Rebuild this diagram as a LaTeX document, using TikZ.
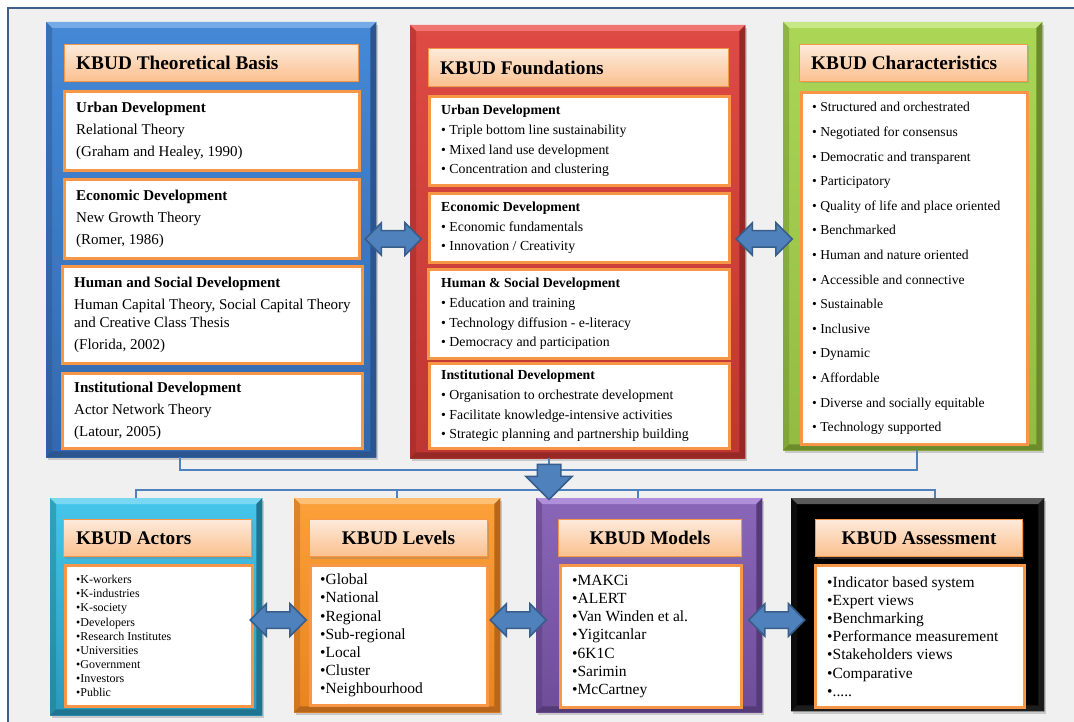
\documentclass[tikz,border=0pt]{standalone}
\usepackage{fontspec}
\setmainfont{Liberation Serif}
\usetikzlibrary{shapes.arrows,shadows,calc}
\definecolor{frameblue}{HTML}{3E5F8A}
\definecolor{bgray}{HTML}{F0F0F0}
\definecolor{hdrtop}{HTML}{FDEADA}
\definecolor{hdrbot}{HTML}{FBC08F}
\definecolor{orangeline}{HTML}{F79646}
\definecolor{arrowfill}{HTML}{4F81BD}
\definecolor{arrowline}{HTML}{385D8A}
\definecolor{bluetop}{HTML}{4589D6}\definecolor{bluebot}{HTML}{3468AE}
\definecolor{bluelt}{HTML}{74AAE8}\definecolor{bluedk}{HTML}{2A5590}
\definecolor{redtop}{HTML}{DF4A44}\definecolor{redbot}{HTML}{BE3632}
\definecolor{redlt}{HTML}{F07470}\definecolor{reddk}{HTML}{962926}
\definecolor{grntop}{HTML}{ABD656}\definecolor{grnbot}{HTML}{93BB42}
\definecolor{grnlt}{HTML}{C8E887}\definecolor{grndk}{HTML}{6C8C2C}
\definecolor{cyntop}{HTML}{45C6EA}\definecolor{cynbot}{HTML}{2B98BA}
\definecolor{cynlt}{HTML}{7AD8F2}\definecolor{cyndk}{HTML}{1F7590}
\definecolor{orgtop}{HTML}{FCA03A}\definecolor{orgbot}{HTML}{E8841F}
\definecolor{orglt}{HTML}{FFC075}\definecolor{orgdk}{HTML}{B8661A}
\definecolor{purtop}{HTML}{8A66B8}\definecolor{purbot}{HTML}{6E4D98}
\definecolor{purlt}{HTML}{B08FDA}\definecolor{purdk}{HTML}{553A78}
\definecolor{blklt}{HTML}{5A5A5A}\definecolor{blkdk}{HTML}{1C1C1C}
\newcommand\bev[3]{%
  \fill[#2] (#1.north west) -- (#1.north east) -- ([shift={(-6,6)}]#1.north east) -- ([shift={(6,6)}]#1.north west) -- cycle;
  \fill[#3] (#1.north east) -- (#1.south east) -- ([shift={(-6,-6)}]#1.south east) -- ([shift={(-6,6)}]#1.north east) -- cycle;
  \fill[#3] (#1.south west) -- (#1.south east) -- ([shift={(-6,-6)}]#1.south east) -- ([shift={(6,-6)}]#1.south west) -- cycle;
  \fill[#3,opacity=0.45] (#1.north west) -- (#1.south west) -- ([shift={(6,-6)}]#1.south west) -- ([shift={(6,6)}]#1.north west) -- cycle;
}
\begin{document}
\begin{tikzpicture}[x=1pt,y=-1pt,
  bigbox/.style={inner sep=0pt, anchor=north west, drop shadow={shadow xshift=2pt,shadow yshift=-3pt,opacity=0.35}},
  hdr/.style={draw=orangeline, line width=1pt, top color=hdrtop, bottom color=hdrbot, inner sep=0pt, anchor=north west, minimum height=37pt, drop shadow={shadow xshift=1.5pt,shadow yshift=-2pt,opacity=0.3}},
  htxt/.style={anchor=west, inner sep=0pt, font=\fontsize{19.3}{22}\selectfont\bfseries},
  wbox/.style={draw=orangeline, line width=3pt, fill=white, inner sep=0pt, anchor=north west},
  btxt/.style={anchor=west, inner sep=0pt, align=left},
  darr/.style={double arrow, fill=arrowfill, draw=arrowline, line width=1.5pt, inner sep=7.5pt, double arrow head extend=8pt, minimum height=56pt},
  conn/.style={draw=arrowfill, line width=2.5pt}]
\useasboundingbox (0,0) rectangle (1074,722);
\fill[white] (0,0) rectangle (1074,722);
\draw[frameblue, line width=2.5pt, fill=bgray] (8,8) rectangle (1090,740);

% top row boxes
\node[bigbox, top color=bluetop, bottom color=bluebot, minimum width=330pt, minimum height=435pt] (tb) at (46,22) {};
\node[bigbox, top color=redtop, bottom color=redbot, minimum width=335pt, minimum height=433pt] (fd) at (410,25) {};
\node[bigbox, top color=grntop, bottom color=grnbot, minimum width=259pt, minimum height=428pt] (fc) at (783,22) {};
% bottom row boxes
\node[bigbox, top color=cyntop, bottom color=cynbot, minimum width=212pt, minimum height=217pt] (ac) at (50,498) {};
\node[bigbox, top color=orgtop, bottom color=orgbot, minimum width=206pt, minimum height=214pt] (lv) at (294,498) {};
\node[bigbox, top color=purtop, bottom color=purbot, minimum width=226pt, minimum height=214pt] (md) at (536,498) {};
\node[bigbox, fill=black, minimum width=253pt, minimum height=213pt] (as) at (791,498) {};
\bev{tb}{bluelt}{bluedk}
\bev{fd}{redlt}{reddk}
\bev{fc}{grnlt}{grndk}
\bev{ac}{cynlt}{cyndk}
\bev{lv}{orglt}{orgdk}
\bev{md}{purlt}{purdk}
\bev{as}{blklt}{blkdk}

% connectors
\coordinate (j1) at (180,470);
\coordinate (j2) at (917,470);
\coordinate (b1) at (136,490);
\coordinate (b3) at (638,490);
\coordinate (b4) at (935,490);
\draw[conn] (tb.south -| j1) -- (j1) -- (j2) -- (fc.south -| j2);
\draw[conn] (ac.north -| b1) -- (b1) -- (b4) -- (as.north -| b4);
\draw[conn] (lv.north) -- (lv.north |- b1);
\draw[conn] (md.north -| b3) -- (b3);

% headers
\node[hdr, minimum width=294pt] (tbh) at (64,44) {};
\node[hdr, minimum width=300pt, minimum height=38pt] (fdh) at (428,48) {};
\node[hdr, minimum width=228pt] (fch) at (799,44) {};
\node[hdr, minimum width=188pt] (ach) at (63,519) {};
\node[hdr, minimum width=178pt] (lvh) at (309,519) {};
\node[hdr, minimum width=183pt] (mdh) at (558,519) {};
\node[hdr, minimum width=207pt] (ash) at (815,519) {};
\node[htxt] (tbht) at ([xshift=12pt]tbh.west) {KBUD Theoretical Basis};
\node[htxt] (fdht) at ([xshift=12pt]fdh.west) {KBUD Foundations};
\node[htxt] (fcht) at ([xshift=12pt]fch.west) {KBUD Characteristics};
\node[htxt] (acht) at ([xshift=13pt]ach.west) {KBUD Actors};
\node[htxt, anchor=center] (lvht) at (lvh.center) {KBUD Levels};
\node[htxt, anchor=center] (mdht) at (mdh.center) {KBUD Models};
\node[htxt, anchor=center] (asht) at (ash.center) {KBUD Assessment};

% theoretical basis contents
\node[wbox, minimum width=295pt, minimum height=79pt] (tb1) at (63,90) {};
\node[wbox, minimum width=295pt, minimum height=79pt] (tb2) at (63,178) {};
\node[wbox, minimum width=300pt, minimum height=97pt] (tb3) at (61,265) {};
\node[wbox, minimum width=300pt, minimum height=75pt] (tb4) at (61,372) {};
\begin{scope}[every node/.append style={btxt, font=\fontsize{15}{22}\selectfont}]
\node (tb1t) at ([xshift=13pt]tb1.west) {\textbf{Urban Development}\\ Relational Theory\\ (Graham and Healey, 1990)};
\node (tb2t) at ([xshift=13pt]tb2.west) {\textbf{Economic Development}\\ New Growth Theory\\ (Romer, 1986)};
\node (tb3t) at ([xshift=13pt]tb3.west) {\textbf{Human and Social Development}\\ Human Capital Theory, Social Capital Theory\\[-4pt] and Creative Class Thesis\\ (Florida, 2002)};
\node (tb4t) at ([xshift=13pt]tb4.west) {\textbf{Institutional Development}\\ Actor Network Theory\\ (Latour, 2005)};
\end{scope}

% foundations contents
\node[wbox, minimum width=300pt, minimum height=89pt] (fd1) at (428,95) {};
\node[wbox, minimum width=300pt, minimum height=69pt] (fd2) at (428,192) {};
\node[wbox, minimum width=301pt, minimum height=89pt] (fd3) at (427,268) {};
\node[wbox, minimum width=300pt, minimum height=85pt] (fd4) at (428,362) {};
\begin{scope}[every node/.append style={btxt, font=\fontsize{13.8}{19.7}\selectfont}]
\node (fd1t) at ([xshift=13pt]fd1.west) {\textbf{Urban Development}\\ • Triple bottom line sustainability\\ • Mixed land use development\\ • Concentration and clustering};
\node (fd2t) at ([xshift=13pt]fd2.west) {\textbf{Economic Development}\\ • Economic fundamentals\\ • Innovation / Creativity};
\node (fd3t) at ([xshift=14pt]fd3.west) {\textbf{Human \& Social Development}\\ • Education and training\\ • Technology diffusion - e-literacy\\ • Democracy and participation};
\node (fd4t) at ([xshift=13pt]fd4.west) {\textbf{Institutional Development}\\ • Organisation to orchestrate development\\ • Facilitate knowledge-intensive activities\\ • Strategic planning and partnership building};
\end{scope}

% characteristics contents
\node[wbox, minimum width=226pt, minimum height=352pt] (fc1) at (800,91) {};
\node[btxt, font=\fontsize{13.6}{24.6}\selectfont] (fc1t) at ([xshift=12pt]fc1.west) {• Structured and orchestrated\\ • Negotiated for consensus\\ • Democratic and transparent\\ • Participatory\\ • Quality of life and place oriented\\ • Benchmarked\\ • Human and nature oriented\\ • Accessible and connective\\ • Sustainable\\ • Inclusive\\ • Dynamic\\ • Affordable\\ • Diverse and socially equitable\\ • Technology supported};

% bottom contents
\node[wbox, minimum width=187pt, minimum height=141pt] (ac1) at (64,564) {};
\node[wbox, minimum width=177pt, minimum height=140pt] (lv1) at (309,564) {};
\node[wbox, minimum width=181pt, minimum height=142pt] (md1) at (559,564) {};
\node[wbox, minimum width=209pt, minimum height=142pt] (as1) at (814,564) {};
\node[btxt, font=\fontsize{12}{14.1}\selectfont] (ac1t) at ([xshift=12pt]ac1.west) {•K-workers\\ •K-industries\\ •K-society\\ •Developers\\ •Research Institutes\\ •Universities\\ •Government\\ •Investors\\ •Public};
\begin{scope}[every node/.append style={btxt, font=\fontsize{15.5}{18.2}\selectfont}]
\node (lv1t) at ([xshift=11pt]lv1.west) {•Global\\ •National\\ •Regional\\ •Sub-regional\\ •Local\\ •Cluster\\ •Neighbourhood};
\node (md1t) at ([xshift=13pt]md1.west) {•MAKCi\\ •ALERT\\ •Van Winden et al.\\ •Yigitcanlar\\ •6K1C\\ •Sarimin\\ •McCartney};
\node (as1t) at ([xshift=13pt]as1.west) {•Indicator based system\\ •Expert views\\ •Benchmarking\\ •Performance measurement\\ •Stakeholders views\\ •Comparative\\ •.....};
\end{scope}

% fat arrows
\node[darr] (a1) at ($(tb.east |- 0,239)!0.5!(fd.west |- 0,239)$) {};
\node[darr] (a2) at ($(fd.east |- 0,239)!0.5!(fc.west |- 0,239)$) {};
\node[darr] (a3) at ($(ac.east |- 0,620)!0.5!(lv.west |- 0,620)$) {};
\node[darr] (a4) at ($(lv.east |- 0,620)!0.5!(md.west |- 0,620)$) {};
\node[darr] (a5) at ($(md.east |- 0,620)!0.5!(as.west |- 0,620)$) {};
\coordinate (dc) at (549,476);
\draw[conn] (fd.south -| dc) -- (dc);
\node[single arrow, shape border rotate=270, fill=arrowfill, draw=arrowline, line width=1.5pt, inner sep=11pt, single arrow head extend=11.5pt, minimum height=34pt] (dn) at (dc) {};
\end{tikzpicture}
\end{document}
